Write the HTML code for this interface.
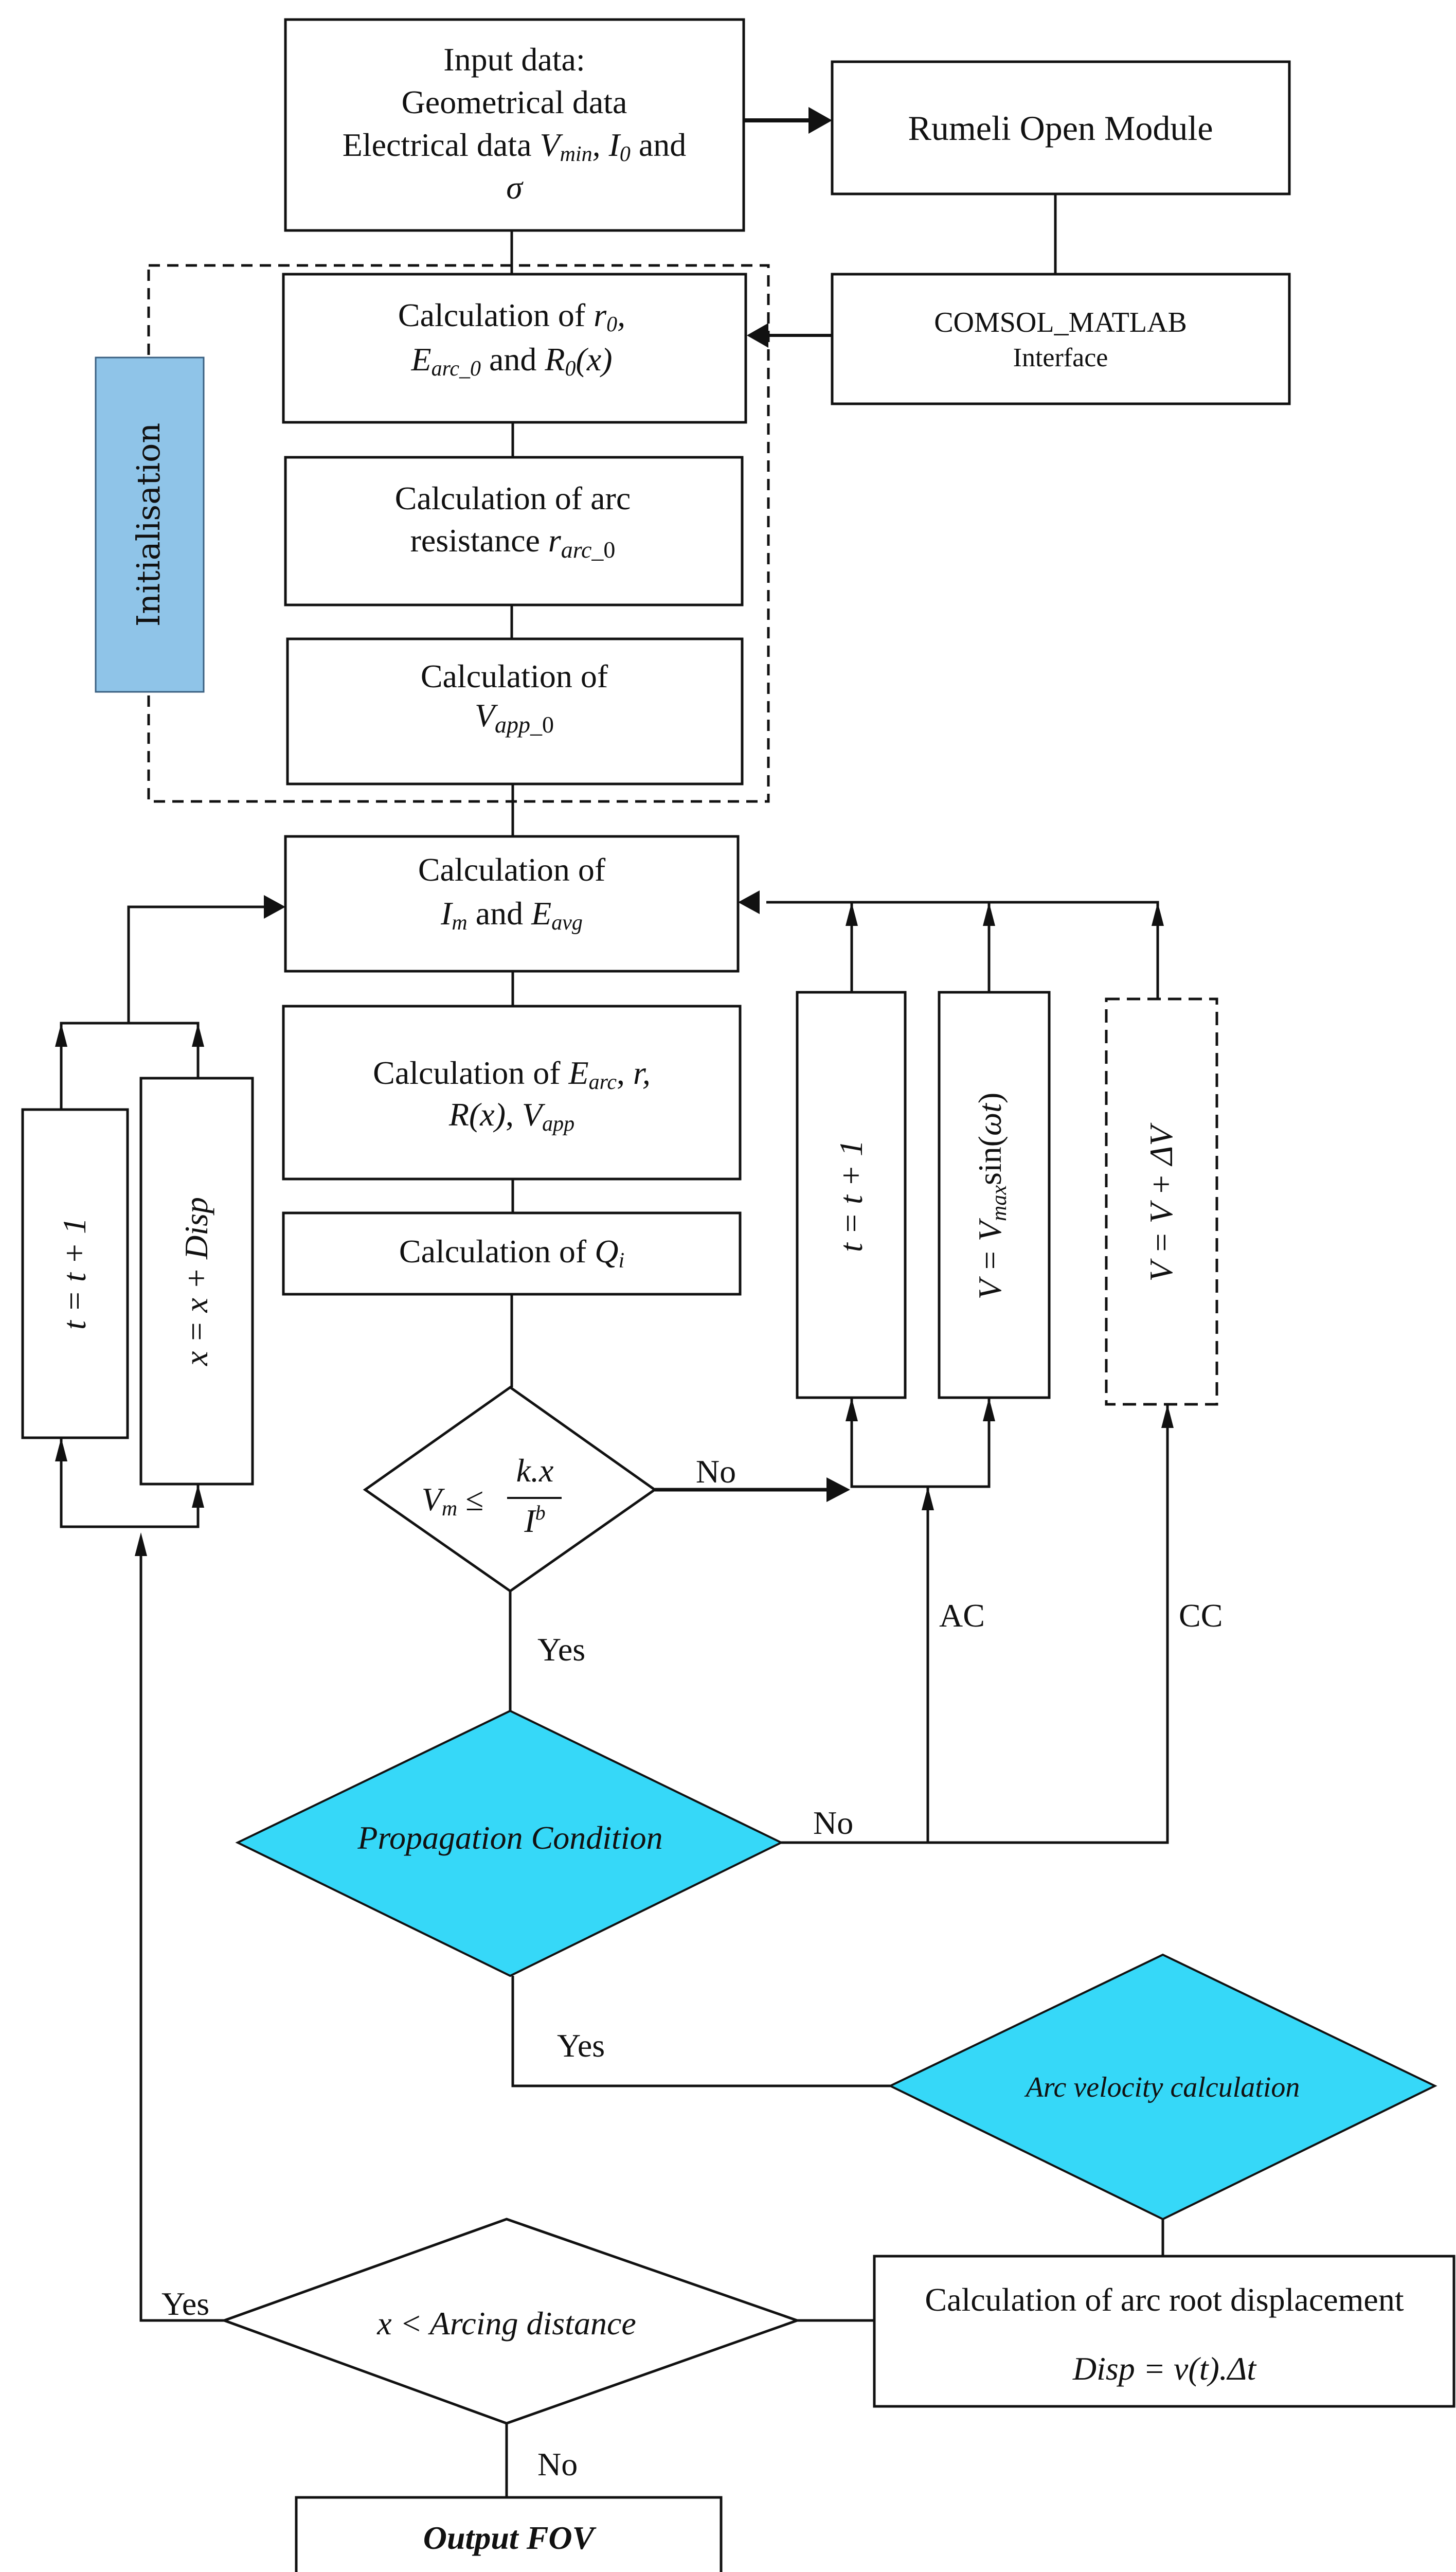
<!DOCTYPE html>
<html><head><meta charset="utf-8"><style>
html,body{margin:0;padding:0;background:#fff;width:2831px;height:5057px;overflow:hidden}
svg{display:block;position:absolute;left:0;top:0}
text{font-family:"Liberation Serif",serif;fill:#111}
.t{font-size:64px}
.i{font-style:italic}
</style></head><body>
<svg width="2831" height="5057" viewBox="0 0 2831 5057" xmlns="http://www.w3.org/2000/svg">
<g fill="none" stroke="#111" stroke-width="5">
<rect x="555" y="38" width="891" height="410" fill="#fff"/>
<rect x="1618" y="120" width="889" height="257"/>
<rect x="1618" y="533" width="889" height="252"/>
<rect x="289" y="516" width="1205" height="1042" stroke-dasharray="22,14"/>
<rect x="551" y="533" width="899" height="288" fill="#fff"/>
<rect x="555" y="889" width="888" height="287" fill="#fff"/>
<rect x="559" y="1242" width="884" height="282" fill="#fff"/>
<rect x="555" y="1626" width="880" height="262"/>
<rect x="551" y="1956" width="888" height="336"/>
<rect x="551" y="2358" width="888" height="158"/>
<rect x="44" y="2157" width="204" height="638"/>
<rect x="274" y="2096" width="217" height="789"/>
<rect x="1550" y="1929" width="210" height="788"/>
<rect x="1826" y="1929" width="214" height="788"/>
<rect x="2151" y="1942" width="215" height="788" stroke-dasharray="26,14"/>
<rect x="1700" y="4386" width="1127" height="292"/>
<rect x="576" y="4855" width="826" height="167"/>
<polygon points="992,2697 1273,2896 992,3093 710,2896"/>
<polygon points="992,3326 1519,3582 992,3841 462,3582" fill="#36d8f8" stroke-width="4"/>
<polygon points="2261,3800 2790,4055 2261,4314 1731,4055" fill="#36d8f8" stroke-width="4"/>
<polygon points="985,4314 1550,4511 985,4711 436,4511"/>
<line x1="995" y1="448" x2="995" y2="533"/>
<line x1="2052" y1="377" x2="2052" y2="533"/>
<line x1="1446" y1="234" x2="1580" y2="234" stroke-width="8"/>
<line x1="1618" y1="652" x2="1490" y2="652" stroke-width="6"/>
<line x1="997" y1="821" x2="997" y2="889"/>
<line x1="995" y1="1176" x2="995" y2="1242"/>
<line x1="997" y1="1524" x2="997" y2="1626"/>
<line x1="997" y1="1888" x2="997" y2="1956"/>
<line x1="997" y1="2292" x2="997" y2="2358"/>
<line x1="995" y1="2516" x2="995" y2="2697"/>
<line x1="1273" y1="2896" x2="1615" y2="2896" stroke-width="7"/>
<line x1="992" y1="3093" x2="992" y2="3326"/>
<polyline points="250,1989 250,1763 520,1763"/>
<polyline points="119,2157 119,1989 385,1989 385,2096"/>
<polyline points="119,2795 119,2968 385,2968 385,2885"/>
<polyline points="436,4511 274,4511 274,3010"/>
<polyline points="2251,1942 2251,1754 1490,1754"/>
<line x1="1656" y1="1929" x2="1656" y2="1754"/>
<line x1="1923" y1="1929" x2="1923" y2="1754"/>
<polyline points="1656,2717 1656,2890 1923,2890 1923,2717"/>
<polyline points="1519,3582 2270,3582 2270,2730"/>
<line x1="1804" y1="3582" x2="1804" y2="2890"/>
<polyline points="997,3841 997,4055 1731,4055"/>
<line x1="2261" y1="4314" x2="2261" y2="4386"/>
<line x1="1550" y1="4511" x2="1700" y2="4511"/>
<line x1="985" y1="4711" x2="985" y2="4855"/>
</g>
<g fill="#111">
<polygon points="1618,234 1572,208 1572,260"/>
<polygon points="1452,652 1494,628 1494,676"/>
<polygon points="555,1763 513,1740 513,1786"/>
<polygon points="1435,1754 1477,1731 1477,1777"/>
<polygon points="119,1989 107,2035 131,2035"/>
<polygon points="385,1989 373,2035 397,2035"/>
<polygon points="119,2795 107,2841 131,2841"/>
<polygon points="385,2885 373,2931 397,2931"/>
<polygon points="274,2979 262,3025 286,3025"/>
<polygon points="1656,1754 1644,1800 1668,1800"/>
<polygon points="1923,1754 1911,1800 1935,1800"/>
<polygon points="2251,1754 2239,1800 2263,1800"/>
<polygon points="1656,2717 1644,2763 1668,2763"/>
<polygon points="1923,2717 1911,2763 1935,2763"/>
<polygon points="2270,2730 2258,2776 2282,2776"/>
<polygon points="1804,2890 1792,2936 1816,2936"/>
<polygon points="1653,2896 1607,2872 1607,2920"/>
</g>
<rect x="186" y="695" width="210" height="650" fill="#8fc4e8" stroke="#3a5f80" stroke-width="3"/>
<text transform="translate(310,1020) rotate(-90)" text-anchor="middle" font-size="62" style="font-family:'DejaVu Serif',serif">Initialisation</text>
<g class="t" text-anchor="middle">
<text x="1000" y="137">Input data:</text>
<text x="1000" y="220">Geometrical data</text>
<text x="1000" y="303">Electrical data <tspan class="i">V<tspan font-size="42" dy="10">min</tspan><tspan dy="-10">, I</tspan><tspan font-size="42" dy="10">0</tspan></tspan><tspan dy="-10"> and</tspan></text>
<text x="1000" y="386" class="i">σ</text>
<text x="2062" y="272" font-size="68">Rumeli Open Module</text>
<text x="2062" y="645" font-size="56">COMSOL_MATLAB</text>
<text x="2062" y="712" font-size="52">Interface</text>
<text x="995" y="634">Calculation of <tspan class="i">r<tspan font-size="42" dy="10">0</tspan><tspan dy="-10">,</tspan></tspan></text>
<text x="995" y="720"><tspan class="i">E<tspan font-size="42" dy="10">arc_0</tspan></tspan><tspan dy="-10"> and </tspan><tspan class="i">R<tspan font-size="42" dy="10">0</tspan><tspan dy="-10">(x)</tspan></tspan></text>
<text x="997" y="990">Calculation of arc</text>
<text x="997" y="1072">resistance <tspan class="i">r<tspan font-size="46" dy="12">arc_</tspan></tspan><tspan font-size="46">0</tspan></text>
<text x="1000" y="1336">Calculation of</text>
<text x="1000" y="1412" class="i">V<tspan font-size="46" dy="12">app_</tspan><tspan font-style="normal" font-size="46">0</tspan></text>
<text x="995" y="1712">Calculation of</text>
<text x="995" y="1797"><tspan class="i">I<tspan font-size="42" dy="10">m</tspan></tspan><tspan dy="-10"> and </tspan><tspan class="i">E<tspan font-size="42" dy="10">avg</tspan></tspan></text>
<text x="995" y="2107">Calculation of <tspan class="i">E<tspan font-size="42" dy="10">arc</tspan></tspan><tspan dy="-10">, </tspan><tspan class="i">r,</tspan></text>
<text x="995" y="2188"><tspan class="i">R(x)</tspan>, <tspan class="i">V<tspan font-size="42" dy="10">app</tspan></tspan></text>
<text x="995" y="2454">Calculation of <tspan class="i">Q<tspan font-size="42" dy="10">i</tspan></tspan></text>
<text x="880" y="2936" class="i">V<tspan font-size="42" dy="10">m</tspan><tspan font-style="normal" dy="-10"> ≤</tspan></text>
<text x="1040" y="2880" class="i">k.x</text>
<text x="1040" y="2978" class="i">I<tspan font-size="40" dy="-24">b</tspan></text>
<text x="1392" y="2882">No</text>
<text x="1045" y="3228" text-anchor="start">Yes</text>
<text x="1826" y="3162" text-anchor="start">AC</text>
<text x="2292" y="3162" text-anchor="start">CC</text>
<text x="1581" y="3565" text-anchor="start">No</text>
<text x="1083" y="3998" text-anchor="start">Yes</text>
<text x="314" y="4500" text-anchor="start">Yes</text>
<text x="1045" y="4812" text-anchor="start">No</text>
<text x="992" y="3594" class="i">Propagation Condition</text>
<text x="2261" y="4076" class="i" font-size="56">Arc velocity calculation</text>
<text x="985" y="4538" class="i">x &lt; Arcing distance</text>
<text x="2264" y="4492">Calculation of arc root displacement</text>
<text x="2264" y="4626" class="i">Disp = v(t).Δt</text>
<text x="989" y="4955" class="i" font-weight="bold">Output FOV</text>
<text transform="translate(166,2476) rotate(-90)" class="i">t = t + 1</text>
<text transform="translate(403,2491) rotate(-90)" class="i">x = x + Disp</text>
<text transform="translate(1676,2325) rotate(-90)" class="i">t = t + 1</text>
<text transform="translate(1946,2325) rotate(-90)" class="i">V = V<tspan font-size="42" dy="10">max</tspan><tspan font-style="normal" dy="-10">sin(</tspan>ωt<tspan font-style="normal">)</tspan></text>
<text transform="translate(2279,2340) rotate(-90)" class="i">V = V + ΔV</text>
</g>
<line x1="986" y1="2912" x2="1092" y2="2912" stroke="#111" stroke-width="4"/>
</svg>
</body></html>
